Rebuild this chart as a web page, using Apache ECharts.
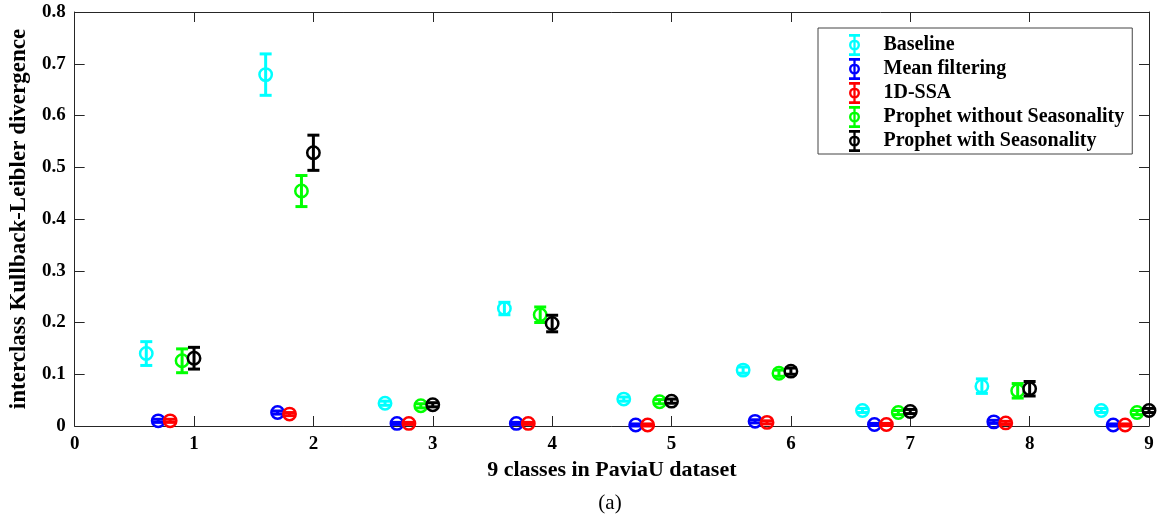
<!DOCTYPE html>
<html>
<head>
<meta charset="utf-8">
<script src="https://cdn.jsdelivr.net/npm/echarts@6/dist/echarts.min.js"></script>
<style>
  html, body { margin: 0; padding: 0; background: #fff; }
  #main { width: 1159px; height: 516px; }
</style>
</head>
<body>
<div id="main"></div>
<script>
// 数据
var classes = [1, 2, 3, 4, 5, 6, 7, 8, 9];
var seriesNames = ['Baseline', 'Mean filtering', '1D-SSA', 'Prophet without Seasonality', 'Prophet with Seasonality'];

var baselineMean = [0.140, 0.679, 0.044, 0.227, 0.052, 0.108, 0.030, 0.077, 0.030];
var baselineErr  = [0.023, 0.040, 0.004, 0.012, 0.004, 0.006, 0.004, 0.014, 0.004];
var meanFiltMean = [0.010, 0.026, 0.005, 0.005, 0.002, 0.009, 0.003, 0.008, 0.002];
var meanFiltErr  = [0.003, 0.003, 0.002, 0.002, 0.002, 0.003, 0.002, 0.003, 0.002];
var ssaMean      = [0.010, 0.023, 0.005, 0.005, 0.002, 0.007, 0.003, 0.006, 0.002];
var ssaErr       = [0.003, 0.003, 0.002, 0.002, 0.002, 0.003, 0.002, 0.003, 0.002];
var prophetNoSMean = [0.126, 0.454, 0.039, 0.215, 0.047, 0.102, 0.026, 0.068, 0.026];
var prophetNoSErr  = [0.023, 0.030, 0.004, 0.015, 0.004, 0.006, 0.004, 0.014, 0.004];
var prophetSMean   = [0.131, 0.528, 0.041, 0.198, 0.048, 0.106, 0.028, 0.072, 0.030];
var prophetSErr    = [0.021, 0.034, 0.004, 0.016, 0.004, 0.006, 0.004, 0.014, 0.004];

var xTicks = [0, 1, 2, 3, 4, 5, 6, 7, 8, 9];
var yTicks = [0, 0.1, 0.2, 0.3, 0.4, 0.5, 0.6, 0.7, 0.8];

// 每个系列在类别上的横向偏移
var offsets = [-0.4, -0.3, -0.2, -0.1, 0];
var colors = ['#00ffff', '#0000ff', '#ff0000', '#00ff00', '#000000'];
var means = [baselineMean, meanFiltMean, ssaMean, prophetNoSMean, prophetSMean];
var errs = [baselineErr, meanFiltErr, ssaErr, prophetNoSErr, prophetSErr];

var fontFamily = '"Liberation Serif", "Times New Roman", serif';

// 图例图标：误差棒+圆圈
var legendIcon = 'path://M0 0L12 0L12 3L0 3Z M0 21L12 21L12 24L0 24Z M4.75 0L7.25 0L7.25 24L4.75 24Z ' +
    'M0 12A6 6 0 1 1 12 12A6 6 0 1 1 0 12Z M2.6 12A3.4 3.4 0 1 0 9.4 12A3.4 3.4 0 1 0 2.6 12Z';

function renderErrorBar(params, api) {
    var x = api.value(0);
    var y = api.value(1);
    var e = api.value(2);
    var c = api.coord([x, y]);
    var top = api.coord([x, y + e]);
    var bot = api.coord([x, y - e]);
    var color = api.visual('color');
    var capW = 6;
    var lineStyle = { stroke: color, lineWidth: 3, fill: null };
    return {
        type: 'group',
        children: [
            { type: 'line', shape: { x1: c[0], y1: top[1], x2: c[0], y2: bot[1] }, style: lineStyle },
            { type: 'line', shape: { x1: c[0] - capW, y1: top[1], x2: c[0] + capW, y2: top[1] }, style: lineStyle },
            { type: 'line', shape: { x1: c[0] - capW, y1: bot[1], x2: c[0] + capW, y2: bot[1] }, style: lineStyle },
            { type: 'circle', shape: { cx: c[0], cy: c[1], r: 6.2 }, style: { fill: null, stroke: color, lineWidth: 2.5 } }
        ]
    };
}

var series = [];
for (var s = 0; s < seriesNames.length; s++) {
    var data = [];
    for (var i = 0; i < classes.length; i++) {
        data.push([classes[i] + offsets[s], means[s][i], errs[s][i]]);
    }
    series.push({
        name: seriesNames[s],
        type: 'custom',
        xAxisIndex: 0,
        yAxisIndex: 0,
        itemStyle: { color: colors[s] },
        renderItem: renderErrorBar,
        encode: { x: 0, y: 1 },
        data: data
    });
}

var axisLineStyle = { color: '#262626', width: 1 };

var option = {
    animation: false,
    backgroundColor: '#fff',
    title: {
        text: '(a)',
        left: 610,
        top: 493,
        textAlign: 'center',
        padding: 0,
        textStyle: { fontFamily: fontFamily, fontWeight: 'normal', fontSize: 21, color: '#000' }
    },
    grid: { left: 72, right: 10, top: 12, bottom: 90 },
    legend: {
        orient: 'vertical',
        left: 818,
        top: 28,
        padding: [6, 8, 2, 31],
        itemWidth: 48,
        itemHeight: 22,
        itemGap: 2,
        backgroundColor: '#fff',
        borderColor: '#444',
        borderWidth: 1,
        textStyle: { fontFamily: fontFamily, fontWeight: 'bold', fontSize: 20, color: '#000' },
        data: seriesNames.map(function (n) { return { name: n, icon: legendIcon }; })
    },
    xAxis: [{
        type: 'value',
        position: 'bottom',
        min: xTicks[0],
        max: xTicks[xTicks.length - 1],
        interval: 1,
        name: '9 classes in PaviaU dataset',
        nameLocation: 'middle',
        nameGap: 33,
        nameTextStyle: { fontFamily: fontFamily, fontWeight: 'bold', fontSize: 22, color: '#000' },
        axisLine: { show: true, lineStyle: axisLineStyle },
        axisTick: { show: true, inside: true, length: 10, lineStyle: axisLineStyle },
        axisLabel: { margin: 9, fontFamily: fontFamily, fontWeight: 'bold', fontSize: 19, color: '#000' },
        splitLine: { show: false }
    }, {
        type: 'value',
        position: 'top',
        min: xTicks[0],
        max: xTicks[xTicks.length - 1],
        interval: 1,
        axisLine: { show: true, onZero: false, lineStyle: axisLineStyle },
        axisTick: { show: true, inside: true, length: 10, lineStyle: axisLineStyle },
        axisLabel: { show: false },
        splitLine: { show: false }
    }],
    yAxis: [{
        type: 'value',
        position: 'left',
        min: yTicks[0],
        max: yTicks[yTicks.length - 1],
        interval: 0.1,
        name: 'interclass Kullback-Leibler divergence',
        nameLocation: 'middle',
        nameGap: 43,
        nameTextStyle: { fontFamily: fontFamily, fontWeight: 'bold', fontSize: 23, color: '#000' },
        axisLine: { show: true, lineStyle: axisLineStyle },
        axisTick: { show: true, inside: true, length: 10, lineStyle: axisLineStyle },
        axisLabel: { margin: 9, fontFamily: fontFamily, fontWeight: 'bold', fontSize: 19, color: '#000' },
        splitLine: { show: false }
    }, {
        type: 'value',
        position: 'right',
        min: yTicks[0],
        max: yTicks[yTicks.length - 1],
        interval: 0.1,
        axisLine: { show: true, onZero: false, lineStyle: axisLineStyle },
        axisTick: { show: true, inside: true, length: 10, lineStyle: axisLineStyle },
        axisLabel: { show: false },
        splitLine: { show: false }
    }],
    series: series
};

var chart = echarts.init(document.getElementById('main'));
chart.setOption(option);
</script>
</body>
</html>
